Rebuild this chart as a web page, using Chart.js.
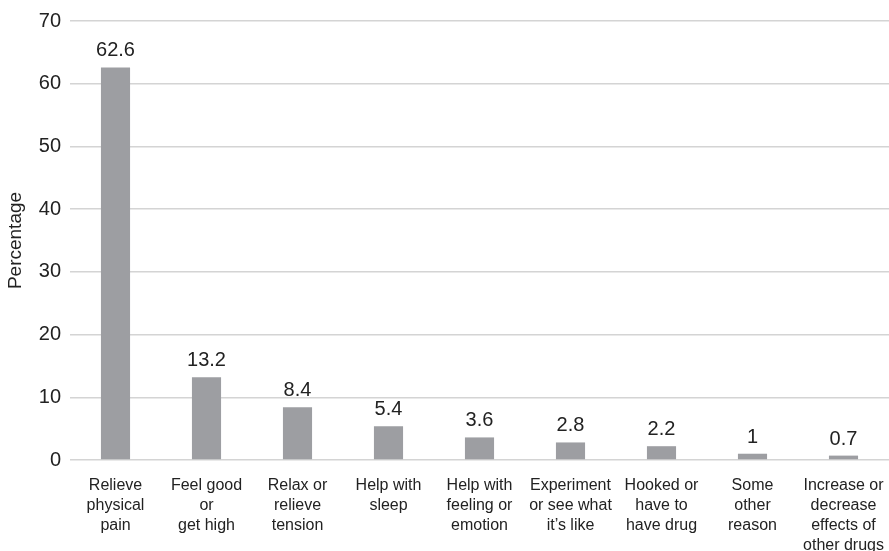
<!DOCTYPE html>
<html>
<head>
<meta charset="utf-8">
<script src="https://cdn.jsdelivr.net/npm/chart.js@4/dist/chart.umd.min.js"></script>
<style>
  html, body { margin: 0; padding: 0; background: #fff; }
  #wrap { width: 889px; height: 551px; }
</style>
</head>
<body>
<div id="wrap"><canvas id="reasons" width="889" height="551"></canvas></div>
<script>
var reasons = [
  ['Relieve', 'physical', 'pain'],
  ['Feel good', 'or', 'get high'],
  ['Relax or', 'relieve', 'tension'],
  ['Help with', 'sleep'],
  ['Help with', 'feeling or', 'emotion'],
  ['Experiment', 'or see what', 'it\u2019s like'],
  ['Hooked or', 'have to', 'have drug'],
  ['Some', 'other', 'reason'],
  ['Increase or', 'decrease', 'effects of', 'other drugs']
];
var percentages = [62.6, 13.2, 8.4, 5.4, 3.6, 2.8, 2.2, 1, 0.7];
var yTicks = [0, 10, 20, 30, 40, 50, 60, 70];

var fontFamily = '"Liberation Sans", Arial, Helvetica, sans-serif';

// value printed above each bar
var barValues = {
  id: 'barValues',
  afterDatasetsDraw: function(chart) {
    var ctx = chart.ctx;
    var meta = chart.getDatasetMeta(0);
    ctx.save();
    ctx.font = '20px ' + fontFamily;
    ctx.fillStyle = '#222';
    ctx.textAlign = 'center';
    ctx.textBaseline = 'alphabetic';
    meta.data.forEach(function(bar, i) {
      ctx.fillText(String(percentages[i]), bar.x, bar.y - 11);
    });
    ctx.restore();
  }
};

var chart = new Chart(document.getElementById('reasons'), {
  type: 'bar',
  data: {
    labels: reasons,
    datasets: [{
      data: percentages,
      backgroundColor: '#9d9ea2',
      barPercentage: 0.32,
      categoryPercentage: 1
    }]
  },
  options: {
    responsive: false,
    animation: false,
    layout: { padding: { top: 21, right: 0, left: 0, bottom: 0 } },
    plugins: {
      legend: { display: false },
      tooltip: { enabled: false }
    },
    scales: {
      x: {
        grid: { display: false, drawTicks: false },
        border: { display: false },
        ticks: {
          color: '#222',
          font: { family: fontFamily, size: 16, lineHeight: 1.25 },
          padding: 16,
          maxRotation: 0,
          autoSkip: false
        },
        afterFit: function(scale) {
          // let the plot run to the right edge; the long last label can sit there
          scale.height = 91;
          scale.paddingLeft = 0;
          scale.paddingRight = 0;
        }
      },
      y: {
        min: 0,
        max: 70,
        afterBuildTicks: function(scale) {
          scale.ticks = yTicks.map(function(v) { return { value: v }; });
        },
        grid: { color: '#d4d4d4', lineWidth: 1.5, drawTicks: false },
        border: { display: false },
        ticks: {
          color: '#222',
          font: { family: fontFamily, size: 20 },
          padding: 9
        },
        title: {
          display: true,
          text: 'Percentage',
          color: '#222',
          font: { family: fontFamily, size: 19 },
          padding: { top: 4, bottom: 0 }
        },
        afterFit: function(scale) { scale.width = 70; }
      }
    }
  },
  plugins: [barValues]
});
</script>
</body>
</html>
